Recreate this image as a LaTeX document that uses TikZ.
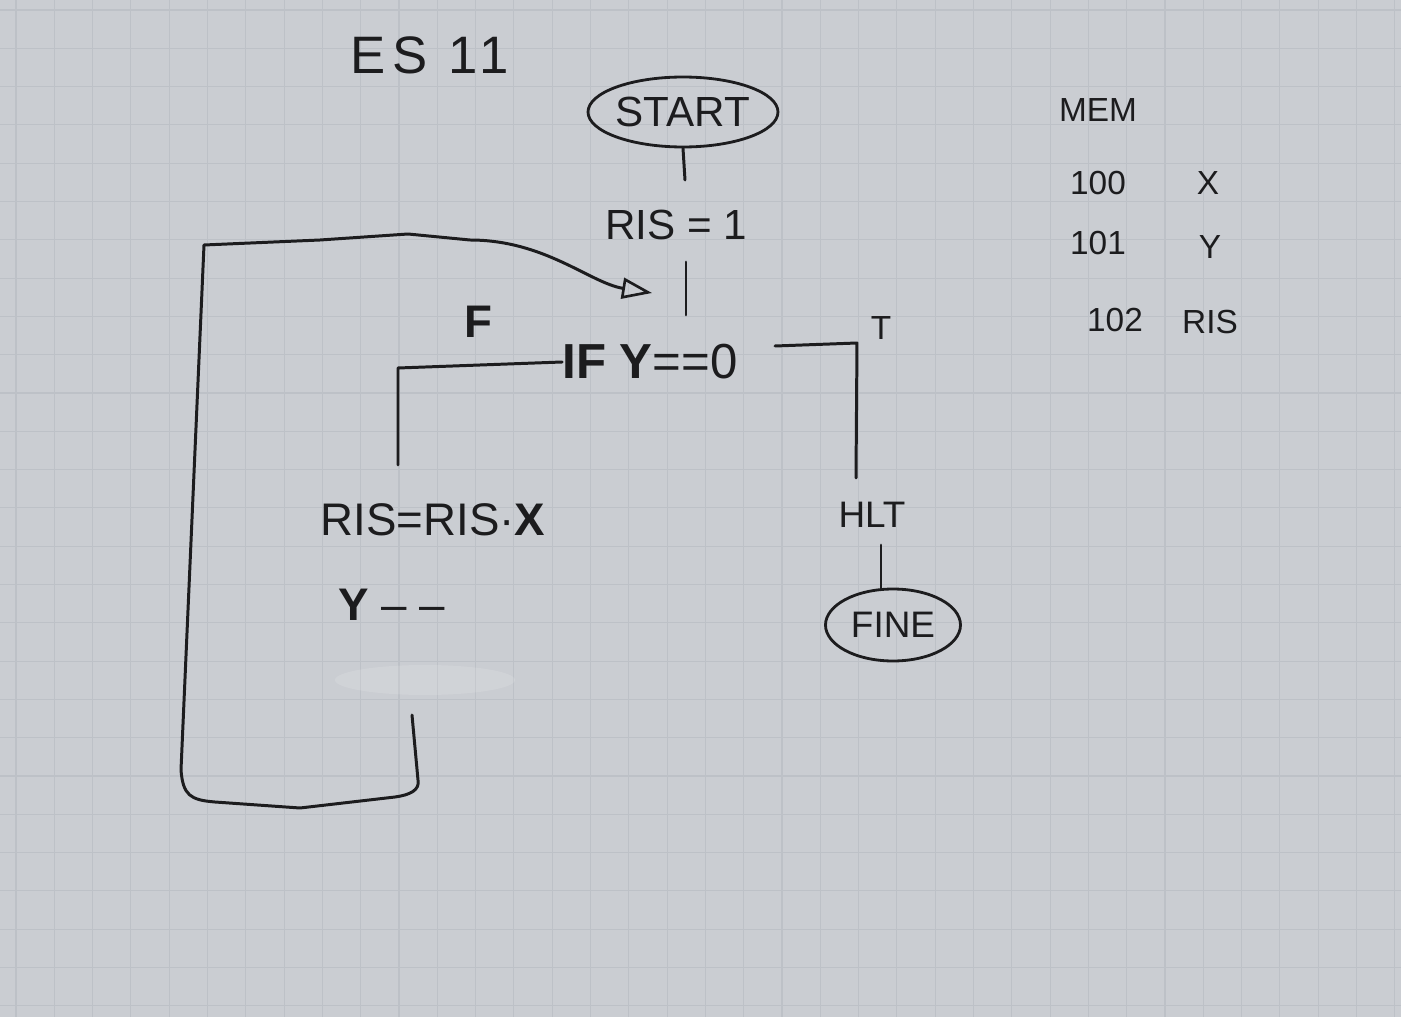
\documentclass[tikz,border=0pt]{standalone}
\usepackage{fontspec}
\setmainfont{Liberation Sans}
\usetikzlibrary{arrows.meta,calc,shapes.geometric}
\definecolor{paper}{HTML}{CACDD2}
\definecolor{gridc}{HTML}{BDC1C7}
\definecolor{ink}{HTML}{1C1C1E}
\begin{document}
\begin{tikzpicture}[x=0.02cm,y=-0.02cm,
  txt/.style={text=ink,inner sep=0pt,font=\fontsize{24}{28}\selectfont},
  small/.style={text=ink,inner sep=0pt,font=\fontsize{19}{22}\selectfont},
  term/.style={draw=ink,ellipse,line width=1.6pt,text=ink,inner sep=0pt,font=\fontsize{24}{28}\selectfont},
  wire/.style={draw=ink,line width=1.7pt,line cap=round,line join=round}]
\fill[paper] (0,0) rectangle (1401,1017);
\useasboundingbox (0,0) rectangle (1401,1017);
\foreach \i in {0,...,36} \draw[gridc,line width=0.6pt] (16+\i*38.3,0) -- (16+\i*38.3,1017);
\foreach \j in {0,...,26} \draw[gridc,line width=0.6pt] (0,10+\j*38.3) -- (1401,10+\j*38.3);
\fill[white,opacity=0.12] (425,680) ellipse [x radius=1.8cm, y radius=0.3cm];

% nodes
\node[txt,font=\fontsize{30}{34}\selectfont\addfontfeatures{LetterSpace=12}] (title) at (430,55) {ES 11};
\node[term,minimum width=3.4cm,minimum height=1.4cm] (start) at (683,112) {START};
\node[txt] (ris1) at (676,225) {RIS = 1};
\node[txt,font=\fontsize{28}{32}\selectfont] (cond) at (650,362) {\textbf{IF} \textbf{Y}==0};
\node[txt,font=\bfseries\fontsize{26}{30}\selectfont] (flab) at (478,322) {F};
\node[small] (tlab) at (881,328) {T};
\node[txt,font=\fontsize{26}{30}\selectfont] (mul) at (433,520) {RIS=RIS·\textbf{X}};
\node[txt,font=\fontsize{26}{30}\selectfont] (dec) at (392,605) {\textbf{Y} – –};
\node[small,font=\fontsize{21}{24}\selectfont] (hlt) at (872,515) {HLT};
\node[term,minimum width=2.7cm,minimum height=1.44cm,font=\fontsize{21}{24}\selectfont] (fine) at (893,625) {FINE};

\node[small] (mem) at (1098,110) {MEM};
\node[small] (a100) at (1098,183) {100};
\node[small] (vx) at (1208,183) {X};
\node[small] (a101) at (1098,243) {101};
\node[small] (vy) at (1210,247) {Y};
\node[small] (a102) at (1115,320) {102};
\node[small] (vris) at (1210,322) {RIS};

% connector helper coordinates
\coordinate (s1) at (685,180);
\coordinate (c1) at (686,262);
\coordinate (c2) at (686,315);
\coordinate (fend) at (398,465);
\coordinate (tstart) at (775,346);
\coordinate (tend) at (856,478);
\coordinate (h1) at (881,545);
\coordinate (lpA) at (412,715);
\coordinate (lpZ) at (652,293);

% connectors
\draw[wire] (start.south) -- (s1);
\draw[wire] (c1) -- (c2);
\draw[wire] (cond.west) -- (398,368) -- (fend);
\draw[wire] (tstart) -- (857,343) -- (tend);
\draw[wire] (h1) -- (h1 |- fine.north);
\draw[wire,-{Triangle[open,length=0.6cm,width=0.42cm,line width=1.5pt]}]
  (lpA) -- (418,780) .. controls (420,790) and (410,795) .. (395,797)
  -- (300,808) -- (215,802) .. controls (190,800) and (183,795) .. (181,770)
  -- (204,245) -- (320,240) -- (408,234) -- (470,240)
  .. controls (545,240) and (590,283) .. (lpZ);
\end{tikzpicture}
\end{document}
